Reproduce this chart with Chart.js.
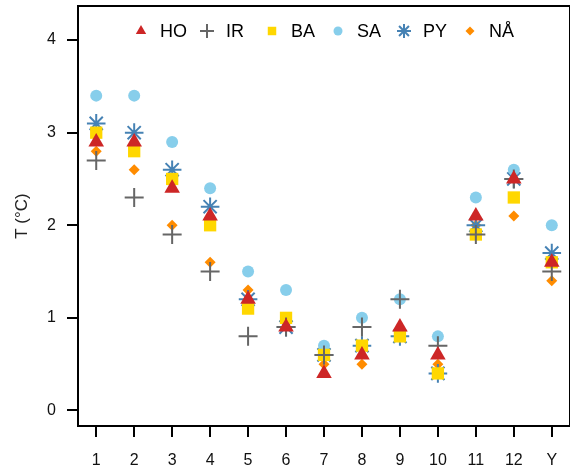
<!DOCTYPE html>
<html>
<head>
<meta charset="utf-8">
<script src="https://cdn.jsdelivr.net/npm/chart.js@4.4.0/dist/chart.umd.min.js"></script>
<style>
  html, body { margin: 0; padding: 0; background: #fff; }
  #wrap { width: 570px; height: 469px; position: relative; }
</style>
</head>
<body>
<div id="wrap"><canvas id="myChart"></canvas></div>
<script>
// months 1..12 plus the year (Y)
const months = ['1', '2', '3', '4', '5', '6', '7', '8', '9', '10', '11', '12', 'Y'];
const yTicks = [0, 1, 2, 3, 4];

const HO = [2.9, 2.9, 2.4, 2.1, 1.2, 0.9, 0.4, 0.6, 0.9, 0.6, 2.1, 2.5, 1.6];
const IR = [2.7, 2.3, 1.9, 1.5, 0.8, 0.9, 0.6, 0.9, 1.2, 0.7, 1.9, 2.5, 1.5];
const BA = [3.0, 2.8, 2.5, 2.0, 1.1, 1.0, 0.6, 0.7, 0.8, 0.4, 1.9, 2.3, 1.6];
const SA = [3.4, 3.4, 2.9, 2.4, 1.5, 1.3, 0.7, 1.0, 1.2, 0.8, 2.3, 2.6, 2.0];
const PY = [3.1, 3.0, 2.6, 2.2, 1.2, 0.9, 0.6, 0.7, 0.8, 0.4, 2.0, 2.5, 1.7];
const NA = [2.8, 2.6, 2.0, 1.6, 1.3, 1.0, 0.5, 0.5, 0.8, 0.5, 2.0, 2.1, 1.4];

const FONT = '"Liberation Sans", Arial, sans-serif';

function pts(arr) {
  return arr.map((v, i) => ({ x: i + 1, y: v }));
}

// symbol, colour, size in plot, size in legend
function series(label, data, style, color, r, lr, lw) {
  return {
    label: label,
    data: pts(data),
    pointStyle: style,
    backgroundColor: color,
    borderColor: color,
    borderWidth: lw,
    pointRadius: r,
    legendRadius: lr,
    showLine: false
  };
}

// draws the box on top/right and the legend inside the plot
const framePlugin = {
  id: 'frame',
  afterDraw(chart) {
    const ctx = chart.ctx;
    const a = chart.chartArea;
    ctx.save();
    ctx.strokeStyle = '#000';
    ctx.lineWidth = 2;
    ctx.beginPath();
    ctx.moveTo(a.left, a.top);
    ctx.lineTo(a.right, a.top);
    ctx.lineTo(a.right, a.bottom);
    ctx.stroke();

    const xs = [141, 207, 272, 338, 404, 470];
    chart.data.datasets.forEach((ds, i) => {
      ctx.fillStyle = ds.backgroundColor;
      ctx.strokeStyle = ds.borderColor;
      ctx.lineWidth = ds.borderWidth;
      Chart.helpers.drawPoint(ctx, {
        pointStyle: ds.pointStyle,
        radius: ds.legendRadius,
        borderWidth: ds.borderWidth,
        rotation: 0
      }, xs[i], 31);
      ctx.fillStyle = '#000';
      ctx.font = '18px ' + FONT;
      ctx.textBaseline = 'middle';
      ctx.textAlign = 'left';
      ctx.fillText(ds.label, xs[i] + 19, 32);
    });
    ctx.restore();
  }
};

function noPad(s) {
  s.paddingTop = 0;
  s.paddingBottom = 0;
  s.paddingLeft = 0;
  s.paddingRight = 0;
}

const ctx = document.getElementById('myChart').getContext('2d');
const myChart = new Chart(ctx, {
  type: 'scatter',
  data: {
    datasets: [
      series('HO', HO, 'triangle', '#cd2626', 9, 6, 0),
      series('IR', IR, 'cross', '#666666', 9.5, 7, 2),
      series('BA', BA, 'rect', '#ffd700', 8.7, 6, 0),
      series('SA', SA, 'circle', '#87ceeb', 6, 4.5, 0),
      series('PY', PY, 'star', '#4682b4', 9.3, 7, 2),
      series('NÅ', NA, 'rectRot', '#ff8c00', 5.5, 4.5, 0)
    ]
  },
  options: {
    responsive: true,
    maintainAspectRatio: false,
    animation: false,
    events: [],
    layout: { autoPadding: false, padding: { left: 0, top: 6, right: 0, bottom: 0 } },
    plugins: {
      legend: { display: false },
      tooltip: { enabled: false }
    },
    scales: {
      x: {
        type: 'linear',
        min: 0.52,
        max: 13.48,
        afterFit: s => { s.height = 43; noPad(s); },
        afterBuildTicks: s => { s.ticks = months.map((m, i) => ({ value: i + 1 })); },
        grid: { drawOnChartArea: false, drawTicks: true, tickLength: 11, color: '#000', lineWidth: 2 },
        border: { display: true, color: '#000', width: 2 },
        ticks: {
          autoSkip: false,
          maxRotation: 0,
          padding: 14,
          color: '#111',
          font: { family: FONT, size: 16 },
          callback: v => months[v - 1]
        }
      },
      y: {
        min: -0.168,
        max: 4.368,
        afterFit: s => { s.width = 78; noPad(s); },
        afterBuildTicks: s => { s.ticks = yTicks.map(v => ({ value: v })); },
        grid: { drawOnChartArea: false, drawTicks: true, tickLength: 11, color: '#000', lineWidth: 2 },
        border: { display: true, color: '#000', width: 2 },
        title: {
          display: true,
          text: 'T (°C)',
          color: '#222',
          font: { family: FONT, size: 17 },
          padding: { top: 12, bottom: 0 }
        },
        ticks: {
          padding: 11,
          color: '#111',
          font: { family: FONT, size: 16 },
          callback: v => String(v)
        }
      }
    }
  },
  plugins: [framePlugin]
});
</script>
</body>
</html>
